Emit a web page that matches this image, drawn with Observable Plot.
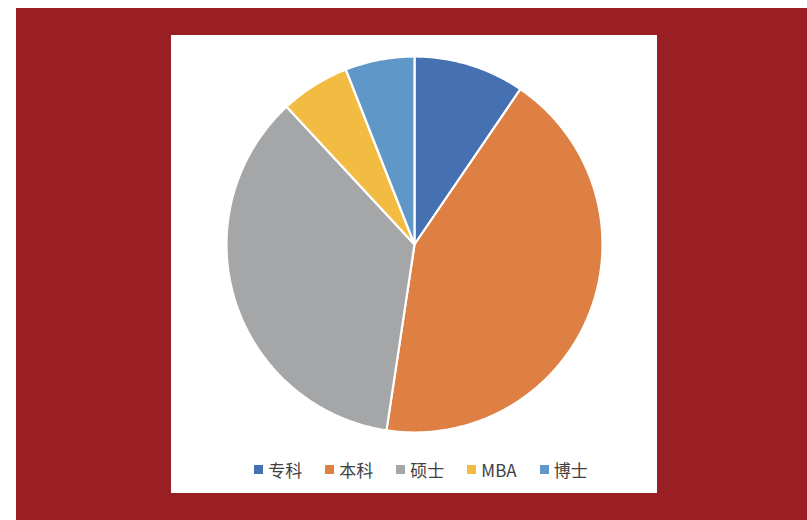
<!DOCTYPE html>
<html>
<head>
<meta charset="utf-8">
<script src="https://cdn.jsdelivr.net/npm/d3@7"></script>
<script src="https://cdn.jsdelivr.net/npm/@observablehq/plot@0.6"></script>
<style>
  html, body { margin: 0; padding: 0; background: #ffffff; }
  body { width: 807px; height: 520px; position: relative; overflow: hidden; font-family: "Noto Sans CJK SC", "Noto Sans", sans-serif; }
  #bg { position: absolute; left: 16px; top: 8px; right: 0; bottom: 0; background: #9a1f24; }
  #panel { position: absolute; left: 171px; top: 35px; width: 486px; height: 458px; background: #ffffff; }
  #chart svg { display: block; }
  #legend { position: absolute; left: 0; width: 486px; top: 422px; display: flex; justify-content: center; align-items: center; padding-left: 14px; box-sizing: border-box; }
  .item { display: flex; align-items: center; margin: 0 11.5px; font-size: 17px; color: #404040; }
  .sw { width: 9px; height: 9px; margin-right: 5px; }
</style>
</head>
<body>
<div id="bg"></div>
<div id="panel">
  <div id="chart"></div>
  <div id="legend"></div>
</div>
<script>
const categories = ["专科", "本科", "硕士", "MBA", "博士"];
const values = [16, 72, 60, 10, 10];
const colors = ["#4571b3", "#de7f43", "#a5a6a7", "#f1bc41", "#6097c9"];

// slice outlines computed from the values with d3.pie (angles), drawn through Plot scales
const arcs = d3.pie().sort(null).value(d => d.value)(categories.map((c, i) => ({cat: c, value: values[i]})));
const outline = [];
arcs.forEach(a => {
  const cat = a.data.cat;
  outline.push({cat, x: 0, y: 0});
  const n = Math.max(2, Math.ceil((a.endAngle - a.startAngle) / 0.01));
  for (let k = 0; k <= n; k++) {
    const t = a.startAngle + (a.endAngle - a.startAngle) * k / n;
    outline.push({cat, x: Math.sin(t), y: Math.cos(t)});
  }
  outline.push({cat, x: 0, y: 0});
});

const chart = Plot.plot({
  width: 486,
  height: 458,
  marginLeft: 55,
  marginRight: 55,
  marginTop: 21,
  marginBottom: 61,
  x: {domain: [-1, 1], axis: null},
  y: {domain: [-1, 1], axis: null},
  color: {domain: categories, range: colors},
  style: {background: "transparent"},
  marks: [
    Plot.line(outline, {x: "x", y: "y", z: "cat", fill: "cat", stroke: "#ffffff", strokeWidth: 2.2, strokeLinejoin: "round", curve: "linear"})
  ]
});
document.getElementById("chart").appendChild(chart);

const legend = document.getElementById("legend");
categories.forEach((c, i) => {
  const it = document.createElement("div");
  it.className = "item";
  const sw = document.createElement("span");
  sw.className = "sw";
  sw.style.background = colors[i];
  const tx = document.createElement("span");
  tx.textContent = c;
  it.appendChild(sw);
  it.appendChild(tx);
  legend.appendChild(it);
});
</script>
</body>
</html>
